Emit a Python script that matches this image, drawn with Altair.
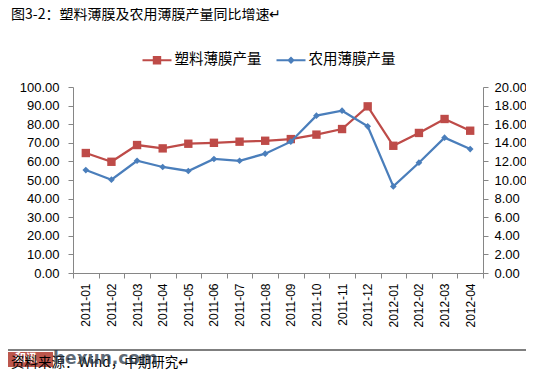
import altair as alt
import pandas as pd

# ---------------- data ----------------
months = ["2011-01", "2011-02", "2011-03", "2011-04", "2011-05", "2011-06",
          "2011-07", "2011-08", "2011-09", "2011-10", "2011-11", "2011-12",
          "2012-01", "2012-02", "2012-03", "2012-04"]
plastic_film = [64.5, 59.8, 68.8, 67.0, 69.5, 70.0, 70.6, 71.1,
                72.0, 74.4, 77.4, 89.6, 68.4, 75.3, 82.8, 76.5]
agri_film = [11.07, 10.03, 12.07, 11.40, 10.97, 12.26, 12.07, 12.83,
             14.12, 16.92, 17.45, 15.77, 9.31, 11.86, 14.55, 13.33]
series_names = ["塑料薄膜产量", "农用薄膜产量"]
series_colors = ["#BE4B48", "#4A7EBB"]
left_ticks = [0, 10, 20, 30, 40, 50, 60, 70, 80, 90, 100]
right_ticks = [0, 2, 4, 6, 8, 10, 12, 14, 16, 18, 20]
title_text = "图3-2：塑料薄膜及农用薄膜产量同比增速↵"
source_text = "资料来源：Wind，中期研究↵"

df = pd.DataFrame({
    "month": months + months,
    "series": [series_names[0]] * len(months) + [series_names[1]] * len(months),
    "value": plastic_film + agri_film,
})

CJK = "Noto Sans CJK SC"
LAT = "Liberation Sans"
AXIS_GRAY = "#868686"

# legend symbols: a short line with a marker on it (filled paths)
sq_path = "M-1.45,-0.11H1.45V0.11H-1.45Z M-0.42,-0.42H0.42V0.42H-0.42Z"
di_path = "M-1.45,-0.11H1.45V0.11H-1.45Z M0,-0.38L0.38,0L0,0.38L-0.38,0Z"

legend = alt.Legend(
    title=None, orient="none", legendX=74, legendY=-37, direction="horizontal",
    labelFont=CJK, labelFontSize=14.5, labelColor="#000", labelOffset=7.5,
    symbolSize=400, symbolStrokeWidth=0, symbolOpacity=1, columnPadding=14, padding=0,
)

x = alt.X("month:N", sort=months,
          scale=alt.Scale(type="band", paddingInner=0, paddingOuter=0),
          axis=alt.Axis(title=None, labelAngle=-90, tickBand="extent", labelFont=LAT,
                        labelFontSize=12, labelColor="#000", tickColor=AXIS_GRAY,
                        domainColor=AXIS_GRAY, tickSize=5, labelPadding=5, grid=False))

yl = alt.Y("value:Q", scale=alt.Scale(domain=[0, 100], nice=False),
           axis=alt.Axis(values=left_ticks, format=".2f", title=None, grid=False,
                         labelFont=LAT, labelFontSize=13, labelColor="#000",
                         tickColor=AXIS_GRAY, domainColor=AXIS_GRAY, tickSize=5,
                         labelPadding=9, orient="left"))
yr = alt.Y("value:Q", scale=alt.Scale(domain=[0, 20], nice=False),
           axis=alt.Axis(values=right_ticks, format=".2f", title=None, grid=False,
                         labelFont=LAT, labelFontSize=13, labelColor="#000",
                         tickColor=AXIS_GRAY, domainColor=AXIS_GRAY, tickSize=5,
                         labelPadding=6, orient="right"))

base = alt.Chart(df)
red = base.transform_filter(alt.datum.series == series_names[0])
blue = base.transform_filter(alt.datum.series == series_names[1])

red_layer = alt.layer(
    red.mark_line(strokeWidth=2.25, color=series_colors[0]).encode(x=x, y=yl),
    red.mark_point(shape="square", filled=True, size=70, opacity=1,
                   color=series_colors[0]).encode(x=x, y=yl),
)
blue_layer = alt.layer(
    blue.mark_line(strokeWidth=2.25, color=series_colors[1]).encode(x=x, y=yr),
    blue.mark_point(shape="diamond", filled=True, size=45, opacity=1,
                    color=series_colors[1]).encode(x=x, y=yr),
)

# legend-only layer (its marks sit far outside the canvas)
legend_layer = base.mark_point(filled=True, opacity=1).encode(
    x=alt.value(-3000), y=alt.value(-3000),
    color=alt.Color("series:N", scale=alt.Scale(domain=series_names, range=series_colors),
                    legend=legend),
    shape=alt.Shape("series:N", scale=alt.Scale(domain=series_names, range=[sq_path, di_path]),
                    legend=legend),
)

one = pd.DataFrame({"t": [title_text], "s": [source_text], "w": ["hexun.com"], "h": ["和讯"]})
dec = alt.Chart(one)
title_mark = dec.mark_text(align="left", baseline="middle", font=CJK, fontSize=14,
                           color="#000").encode(text="t:N", x=alt.value(-62), y=alt.value(-72))
foot_rule = dec.mark_rule(color="#000", strokeWidth=1.2).encode(
    x=alt.value(-65), x2=alt.value(453), y=alt.value(263))
foot_text = dec.mark_text(align="left", baseline="middle", font=CJK, fontSize=13.5,
                          color="#000").encode(text="s:N", x=alt.value(-62), y=alt.value(276))
wm_rect = dec.mark_rect(color="#B03A2E", opacity=0.85).encode(
    x=alt.value(-65), x2=alt.value(-20), y=alt.value(265), y2=alt.value(280))
wm_logo = dec.mark_text(align="left", baseline="middle", font=CJK, fontSize=11,
                        color="#FFFFFF", fontWeight="bold").encode(
    text="h:N", x=alt.value(-58), y=alt.value(272))
wm_text = dec.mark_text(align="left", baseline="middle", font="DejaVu Sans", fontSize=17,
                        fontWeight="bold", color="#2C3A4A", opacity=0.75).encode(
    text="w:N", x=alt.value(-20), y=alt.value(272))

chart = alt.layer(
    red_layer, blue_layer, legend_layer, title_mark, foot_rule,
    wm_rect, wm_logo, foot_text, wm_text
).resolve_scale(y="independent").properties(
    width=410, height=186,
    autosize=alt.AutoSizeParams(type="none"),
    padding={"left": 65, "top": 79, "right": 43, "bottom": 97},
    background="#FFFFFF",
).configure_view(stroke=None)

chart.save("out.html", embed_options={"renderer": "svg", "actions": False})
